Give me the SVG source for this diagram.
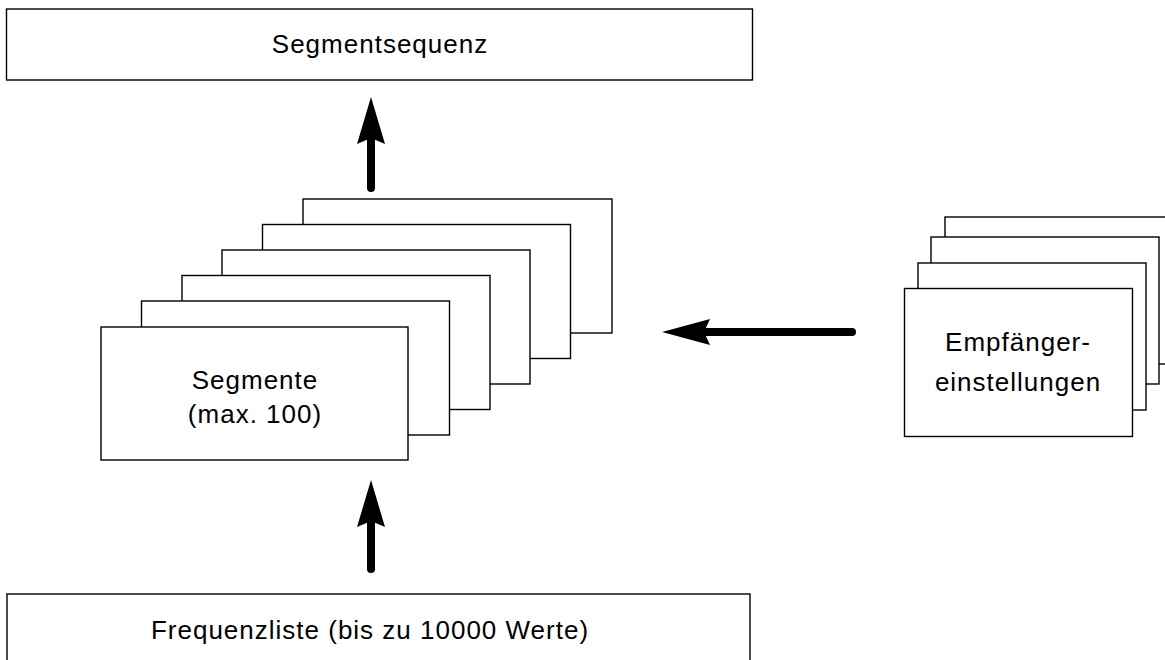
<svg xmlns="http://www.w3.org/2000/svg" width="1165" height="660" viewBox="0 0 1165 660">
<style>
.box{fill:#fff;stroke:#000;stroke-width:1.4}
.t{font-family:"Liberation Sans",Arial,sans-serif;font-size:26px;letter-spacing:1px;fill:#000;text-anchor:middle}
.shaft{stroke:#000;stroke-width:8;stroke-linecap:round;fill:none}
.head{fill:#000;stroke:none}
</style>
<rect width="1165" height="660" fill="#fff"/>
<g id="segmentsequenz">
<rect class="box" x="6.5" y="9" width="746" height="71"/>
<text class="t" x="380" y="53">Segmentsequenz</text>
</g>
<g id="segmente">
<rect class="box" x="303" y="199" width="309" height="134"/>
<rect class="box" x="262.5" y="224.5" width="308" height="134"/>
<rect class="box" x="222" y="250" width="308" height="134"/>
<rect class="box" x="182" y="275.5" width="308" height="134"/>
<rect class="box" x="141.5" y="301" width="308" height="134"/>
<rect class="box" x="101" y="327" width="307" height="133"/>
<text class="t" x="255" y="389">Segmente</text>
<text class="t" x="255" y="423">(max. 100)</text>
</g>
<g id="empfaenger">
<rect class="box" x="945" y="217" width="228" height="147"/>
<rect class="box" x="931" y="237" width="228" height="147"/>
<rect class="box" x="918" y="263" width="228" height="147"/>
<rect class="box" x="904.5" y="288.5" width="228" height="148"/>
<text class="t" x="1018" y="351">Empfänger-</text>
<text class="t" x="1018" y="391">einstellungen</text>
</g>
<g id="frequenzliste">
<rect class="box" x="7" y="594" width="743" height="80"/>
<text class="t" x="370" y="639">Frequenzliste (bis zu 10000 Werte)</text>
</g>
<g id="connectors">
<line class="shaft" x1="371" y1="188" x2="371" y2="136"/>
<polygon class="head" points="371,97 385,144 371,138 357,144"/>
<line class="shaft" x1="371" y1="569" x2="371" y2="519"/>
<polygon class="head" points="371,480 385,527 371,521 357,527"/>
<line class="shaft" x1="852" y1="332" x2="700" y2="332"/>
<polygon class="head" points="662,332 710,319 704,332 710,345"/>
</g>
</svg>
